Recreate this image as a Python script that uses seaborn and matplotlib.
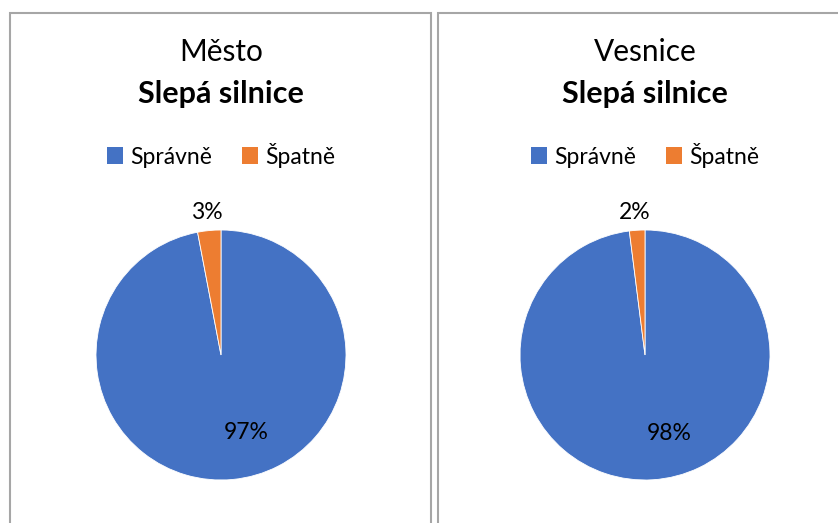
import matplotlib
matplotlib.use("Agg")
import matplotlib.pyplot as plt
from matplotlib.patches import Rectangle, Patch
import seaborn as sns

# data
categories = ["Správně", "Špatně"]
panel_titles = ["Město", "Vesnice"]
subtitle = "Slepá silnice"
values_mesto = [97, 3]
values_vesnice = [98, 2]
colors = ["#4472C4", "#ED7D31"]

sns.set_theme(style="white")
plt.rcParams["font.family"] = ["Lato", "DejaVu Sans"]

W, H = 838, 523
fig = plt.figure(figsize=(W / 100, H / 100), dpi=100)
fig.patch.set_facecolor("white")

# panel borders (pixels)
border = "#A6A6A6"
for x0, x1 in [(9.5, 431.0), (437.5, 860.0)]:
    fig.patches.append(Rectangle((x0 / W, -0.05), (x1 - x0) / W, (H - 13) / H + 0.05,
                                 transform=fig.transFigure, fill=False,
                                 edgecolor=border, linewidth=1.5))

panels = [
    (221, values_mesto, panel_titles[0], [(-0.11, 1.14), (0.20, -0.62)]),
    (645, values_vesnice, panel_titles[1], [(-0.08, 1.14), (0.19, -0.63)]),
]

R = 125
cy = 355
for cx, vals, title, label_pos in panels:
    ax = fig.add_axes([(cx - R) / W, (H - cy - R) / H, 2 * R / W, 2 * R / H])
    wedges, texts, autotexts = ax.pie(vals, colors=colors, startangle=90, counterclock=False,
                                      autopct="%1.0f%%", pctdistance=0.6,
                                      wedgeprops=dict(linewidth=0.6, edgecolor="white"),
                                      textprops=dict(fontsize=16.5, color="black"))
    # Excel "best fit" label placement
    for t, pos in zip(autotexts, [label_pos[1], label_pos[0]]):
        t.set_position(pos)
        t.set_ha("center")
        t.set_va("center")
        t.set_clip_on(False)
    ax.set_xlim(-1, 1)
    ax.set_ylim(-1, 1)
    ax.set_aspect("equal")
    ax.axis("off")

    fig.text(cx / W, 1 - 52 / H, title, ha="center", va="center", fontsize=21.5, color="black")
    fig.text(cx / W, 1 - 94 / H, subtitle, ha="center", va="center", fontsize=22,
             fontweight="bold", color="black")
    handles = [Patch(facecolor=c, edgecolor="none") for c in colors]
    fig.legend(handles, categories, loc="center", bbox_to_anchor=(cx / W, 1 - 155 / H),
               ncol=2, frameon=False, fontsize=16.5, handlelength=0.7, handleheight=0.7,
               handletextpad=0.3, columnspacing=1.3, labelcolor="black")

fig.savefig("out.png", dpi=100, facecolor="white")
